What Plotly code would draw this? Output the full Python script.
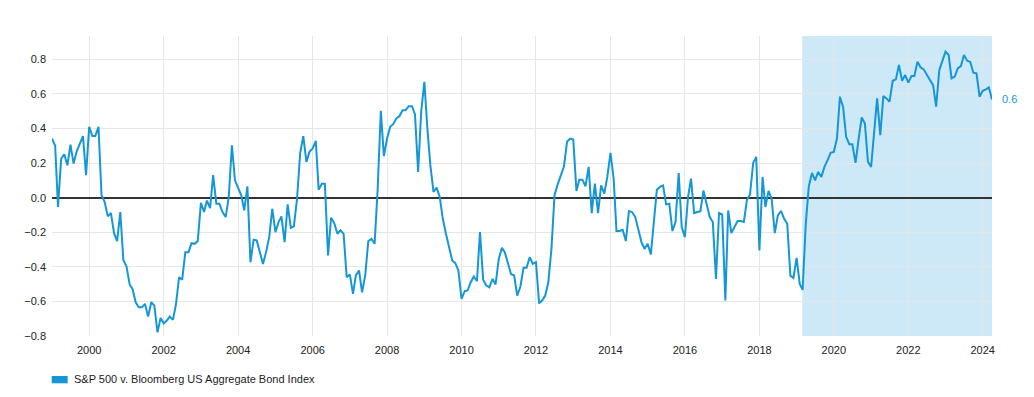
import plotly.graph_objects as go
import pandas as pd

start_month = "1999-01-01"
series_name = "S&P 500 v. Bloomberg US Aggregate Bond Index"

correlation = [
    # 1999
    0.342, 0.30, -0.054, 0.226, 0.251, 0.187, 0.307, 0.197, 0.27, 0.313, 0.356, 0.13,
    # 2000
    0.41, 0.356, 0.356, 0.41, 0.014, -0.025, -0.108, -0.089, -0.205, -0.251, -0.083, -0.36,
    # 2001
    -0.398, -0.502, -0.528, -0.605, -0.634, -0.634, -0.614, -0.688, -0.605, -0.624, -0.779, -0.696,
    # 2002
    -0.727, -0.711, -0.688, -0.707, -0.618, -0.46, -0.475, -0.315, -0.315, -0.263, -0.267, -0.251,
    # 2003
    -0.03, -0.083, -0.017, -0.06, 0.13, -0.035, -0.035, -0.083, -0.112, 0.004, 0.303, 0.1,
    # 2004
    0.062, 0.014, -0.073, 0.066, -0.373, -0.243, -0.247, -0.315, -0.383, -0.315, -0.228, -0.064,
    # 2005
    -0.199, -0.141, -0.108, -0.257, -0.039, -0.174, -0.166, -0.006, 0.259, 0.356, 0.207, 0.265,
    # 2006
    0.284, 0.329, 0.046, 0.081, 0.081, -0.334, -0.116, -0.147, -0.209, -0.189, -0.209, -0.46,
    # 2007
    -0.444, -0.556, -0.45, -0.421, -0.547, -0.45, -0.251, -0.238, -0.267, 0.05, 0.502, 0.24,
    # 2008
    0.342, 0.41, 0.425, 0.458, 0.471, 0.506, 0.506, 0.529, 0.529, 0.483, 0.149, 0.497,
    # 2009
    0.67, 0.39, 0.187, 0.033, 0.058, 0.004, -0.122, -0.209, -0.286, -0.363, -0.379, -0.421,
    # 2010
    -0.585, -0.541, -0.537, -0.489, -0.456, -0.483, -0.199, -0.475, -0.508, -0.518, -0.47, -0.502,
    # 2011
    -0.354, -0.29, -0.315, -0.373, -0.441, -0.45, -0.566, -0.515, -0.406, -0.406, -0.344, -0.383,
    # 2012
    -0.373, -0.611, -0.595, -0.566, -0.489, -0.296, 0.014, 0.077, 0.129, 0.178, 0.323, 0.342,
    # 2013
    0.336, 0.039, 0.104, 0.104, 0.066, 0.178, -0.089, 0.081, -0.089, 0.071, 0.023, 0.12,
    # 2014
    0.259, 0.11, -0.193, -0.193, -0.186, -0.251, -0.077, -0.083, -0.112, -0.189, -0.257, -0.296,
    # 2015
    -0.267, -0.329, -0.141, 0.046, 0.062, 0.071, -0.039, -0.035, -0.193, -0.141, 0.143, -0.17,
    # 2016
    -0.228, 0.004, 0.110, -0.089, -0.083, -0.079, 0.042, -0.044, -0.112, -0.141, -0.47, -0.089,
    # 2017
    -0.097, -0.595, -0.074, -0.205, -0.174, -0.135, -0.135, -0.141, -0.012, 0.019, 0.201, 0.236,
    # 2018
    -0.305, 0.12, -0.054, 0.039, -0.006, -0.205, -0.102, -0.077, -0.122, -0.151, -0.451, -0.464,
    # 2019
    -0.348, -0.499, -0.533, -0.151, 0.066, 0.143, 0.1, 0.149, 0.12, 0.178, 0.217, 0.259,
    # 2020
    0.265, 0.342, 0.584, 0.525, 0.352, 0.309, 0.309, 0.201, 0.342, 0.464, 0.429, 0.207,
    # 2021
    0.178, 0.41, 0.574, 0.361, 0.587, 0.574, 0.555, 0.676, 0.684, 0.767, 0.676, 0.709,
    # 2022
    0.665, 0.703, 0.703, 0.786, 0.754, 0.742, 0.709, 0.68, 0.651, 0.526, 0.738, 0.792,
    # 2023
    0.844, 0.825, 0.69, 0.70, 0.748, 0.761, 0.825, 0.792, 0.785, 0.723, 0.719, 0.584,
    # 2024
    0.618, 0.626, 0.638, 0.568,
]

shade_start = "2019-02-25"
y_ticks = [-0.8, -0.6, -0.4, -0.2, 0.0, 0.2, 0.4, 0.6, 0.8]

dates = pd.date_range(start_month, periods=len(correlation), freq="MS")

LINE = "#1597d6"
SHADE = "#cde9f7"
FONT = "Liberation Sans, Arial, sans-serif"

# page has an 8px body margin, so the figure is drawn 8px in from the window edge
W, H = 1026, 389
ML, MR, MT, MB = 44, 42, 28, 61
plot_w = W - ML - MR
plot_h = H - MT - MB

fig = go.Figure()
fig.add_trace(go.Scatter(
    x=dates, y=correlation, mode="lines", name=series_name,
    line=dict(color=LINE, width=2),
    showlegend=False, hoverinfo="x+y",
))

fig.add_shape(type="rect", xref="x", yref="paper",
              x0=shade_start, x1=dates[-1], y0=0, y1=1,
              fillcolor=SHADE, line=dict(width=0), layer="below")

fig.add_annotation(x=dates[-1], y=correlation[-1], text=f"{correlation[-1]:.1f}",
                   showarrow=False, xanchor="left", yanchor="middle", xshift=8,
                   font=dict(color=LINE, size=11, family=FONT))

# legend swatch + label
sw_x0 = -0.3 / plot_w
sw_x1 = 15.7 / plot_w
sw_y0 = -47.3 / plot_h
sw_y1 = -40.0 / plot_h
fig.add_shape(type="rect", xref="paper", yref="paper",
              x0=sw_x0, x1=sw_x1, y0=sw_y0, y1=sw_y1,
              fillcolor=LINE, line=dict(width=0))
fig.add_annotation(xref="paper", yref="paper", x=19.7 / plot_w, y=-43.3 / plot_h,
                   text=series_name, showarrow=False, xanchor="left", yanchor="middle",
                   font=dict(size=11, color="#222222", family=FONT))

fig.update_layout(
    width=W, height=H,
    margin=dict(l=ML, r=MR, t=MT, b=MB),
    paper_bgcolor="white", plot_bgcolor="white",
    font=dict(family=FONT, size=11, color="#222222"),
    showlegend=False,
    xaxis=dict(
        range=[dates[0], dates[-1]],
        type="date", tick0="2000-01-01", dtick="M24", tickformat="%Y",
        showgrid=True, gridcolor="#e6e6e6", gridwidth=1,
        showline=False, zeroline=False, ticks="", ticklabelstandoff=6,
        tickfont=dict(size=11, color="#222222"),
    ),
    yaxis=dict(
        range=[-0.8, 0.935],
        tickvals=y_ticks, tickformat=".1f",
        showgrid=True, gridcolor="#e6e6e6", gridwidth=1,
        zeroline=True, zerolinecolor="#333333", zerolinewidth=1.5,
        showline=False, ticks="", ticklabelstandoff=5,
        tickfont=dict(size=11, color="#222222"),
    ),
)

fig.write_html("out.html")
